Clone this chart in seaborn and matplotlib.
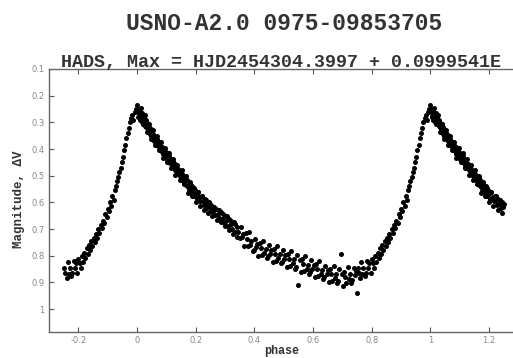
import matplotlib
matplotlib.use("Agg")
import matplotlib.pyplot as plt
import seaborn as sns
import pandas as pd

# ---- data: phase-folded light curve (base cycle 0..1) ----
# descending branch after maximum
phase_desc = [
    0.000, 0.002, 0.004, 0.006, 0.008, 0.010, 0.012, 0.014, 0.016, 0.018,
    0.020, 0.022, 0.024, 0.026, 0.028, 0.030, 0.032, 0.034, 0.036, 0.038,
    0.040, 0.042, 0.044, 0.046, 0.048, 0.050, 0.053, 0.056, 0.059, 0.062,
    0.065, 0.068, 0.071, 0.074, 0.077, 0.080, 0.083, 0.086, 0.089, 0.092,
    0.095, 0.098, 0.101, 0.104, 0.107, 0.110, 0.113, 0.116, 0.119, 0.122,
    0.125, 0.128, 0.131, 0.134, 0.137, 0.140, 0.143, 0.146, 0.149, 0.152,
    0.155, 0.158, 0.161, 0.164, 0.167, 0.170, 0.173, 0.176, 0.179, 0.182,
    0.185, 0.188, 0.191, 0.194, 0.197, 0.200, 0.204, 0.208, 0.212, 0.216,
    0.220, 0.224, 0.228, 0.232, 0.236, 0.240, 0.244, 0.248, 0.252, 0.256,
    0.260, 0.265, 0.270, 0.275, 0.280, 0.285, 0.290, 0.295, 0.300, 0.305,
    0.310, 0.315, 0.320, 0.325, 0.330, 0.335, 0.340, 0.345,
]
mag_desc = [
    0.235, 0.262, 0.250, 0.275, 0.258, 0.290, 0.270, 0.282, 0.300, 0.265,
    0.292, 0.305, 0.280, 0.298, 0.312, 0.290, 0.318, 0.302, 0.325, 0.308,
    0.332, 0.318, 0.342, 0.326, 0.350, 0.336, 0.360, 0.342, 0.370, 0.355,
    0.380, 0.364, 0.390, 0.372, 0.398, 0.385, 0.408, 0.392, 0.418, 0.400,
    0.426, 0.410, 0.438, 0.420, 0.446, 0.428, 0.453, 0.438, 0.463, 0.446,
    0.470, 0.456, 0.480, 0.464, 0.490, 0.474, 0.498, 0.482, 0.508, 0.492,
    0.516, 0.500, 0.528, 0.508, 0.535, 0.518, 0.542, 0.556, 0.530, 0.548,
    0.565, 0.540, 0.557, 0.575, 0.552, 0.570, 0.586, 0.562, 0.580, 0.596,
    0.575, 0.594, 0.608, 0.588, 0.606, 0.622, 0.600, 0.618, 0.634, 0.612,
    0.632, 0.648, 0.624, 0.645, 0.658, 0.636, 0.662, 0.678, 0.650, 0.670,
    0.688, 0.664, 0.682, 0.698, 0.674, 0.712, 0.692, 0.710,
]
# second night, descending branch (wider scatter)
phase_desc2 = [
    0.005, 0.012, 0.019, 0.026, 0.033, 0.040, 0.047, 0.054, 0.061, 0.068,
    0.075, 0.082, 0.089, 0.096, 0.103, 0.110, 0.117, 0.124, 0.131, 0.138,
    0.145, 0.152, 0.159, 0.166, 0.173, 0.180, 0.187, 0.194, 0.201, 0.208,
    0.215, 0.222, 0.229, 0.236, 0.243, 0.250, 0.257, 0.264, 0.271, 0.278,
    0.285, 0.292, 0.299, 0.306, 0.313, 0.320, 0.327, 0.334, 0.341,
]
mag_desc2 = [
    0.280, 0.248, 0.308, 0.272, 0.335, 0.305, 0.362, 0.330, 0.385, 0.352,
    0.405, 0.372, 0.432, 0.398, 0.450, 0.415, 0.470, 0.438, 0.498, 0.460,
    0.515, 0.478, 0.530, 0.500, 0.565, 0.522, 0.578, 0.548, 0.600, 0.560,
    0.615, 0.575, 0.628, 0.592, 0.640, 0.605, 0.650, 0.618, 0.665, 0.630,
    0.672, 0.645, 0.690, 0.652, 0.705, 0.668, 0.718, 0.680, 0.728,
]
# minimum / standstill region
phase_min = [
    0.350, 0.354, 0.358, 0.362, 0.366, 0.370, 0.374, 0.378, 0.382, 0.386,
    0.390, 0.394, 0.398, 0.402, 0.406, 0.410, 0.414, 0.418, 0.422, 0.426,
    0.430, 0.434, 0.438, 0.442, 0.446, 0.450, 0.454, 0.458, 0.462, 0.466,
    0.470, 0.474, 0.478, 0.482, 0.486, 0.490, 0.494, 0.498, 0.502, 0.506,
    0.510, 0.514, 0.518, 0.522, 0.526, 0.530, 0.534, 0.538, 0.542, 0.546,
    0.550, 0.554, 0.558, 0.562, 0.566, 0.570, 0.574, 0.578, 0.582, 0.586,
    0.590, 0.594, 0.598, 0.602, 0.606, 0.610, 0.614, 0.618, 0.622, 0.626,
    0.630, 0.634, 0.638, 0.642, 0.646, 0.650, 0.654, 0.658, 0.662, 0.666,
    0.670, 0.674, 0.678, 0.682, 0.686, 0.690, 0.694, 0.698, 0.702, 0.706,
    0.710, 0.714, 0.718, 0.722, 0.726, 0.730, 0.734, 0.738, 0.742, 0.746,
    0.749, 0.752, 0.756, 0.760, 0.764, 0.768, 0.772, 0.776, 0.780, 0.784,
    0.788, 0.792, 0.796, 0.800, 0.804, 0.808,
]
mag_min = [
    0.735, 0.694, 0.728, 0.717, 0.762, 0.716, 0.737, 0.764, 0.711, 0.759,
    0.745, 0.782, 0.778, 0.736, 0.769, 0.756, 0.800, 0.752, 0.772, 0.798,
    0.743, 0.789, 0.774, 0.809, 0.802, 0.760, 0.792, 0.778, 0.822, 0.774,
    0.793, 0.819, 0.763, 0.810, 0.794, 0.829, 0.823, 0.779, 0.811, 0.797,
    0.841, 0.792, 0.812, 0.837, 0.782, 0.829, 0.813, 0.848, 0.841, 0.798,
    0.910, 0.816, 0.860, 0.812, 0.831, 0.857, 0.801, 0.848, 0.833, 0.867,
    0.861, 0.817, 0.849, 0.836, 0.879, 0.831, 0.850, 0.876, 0.821, 0.867,
    0.852, 0.886, 0.880, 0.837, 0.868, 0.855, 0.898, 0.849, 0.868, 0.894,
    0.838, 0.884, 0.868, 0.902, 0.895, 0.851, 0.792, 0.869, 0.912, 0.862,
    0.879, 0.902, 0.844, 0.888, 0.869, 0.901, 0.892, 0.845, 0.874, 0.857,
    0.940, 0.847, 0.863, 0.885, 0.825, 0.867, 0.847, 0.877, 0.866, 0.818,
    0.845, 0.827, 0.866, 0.812, 0.826, 0.846,
]
# rising branch to maximum
phase_rise = [
    0.812, 0.816, 0.820, 0.824, 0.828, 0.832, 0.836, 0.840, 0.844, 0.848,
    0.852, 0.856, 0.860, 0.864, 0.868, 0.872, 0.876, 0.880, 0.884, 0.888,
    0.892, 0.896, 0.900, 0.904, 0.908, 0.912, 0.916, 0.920, 0.924, 0.928,
    0.932, 0.936, 0.940, 0.944, 0.948, 0.952, 0.956, 0.960, 0.964, 0.968,
    0.972, 0.976, 0.980, 0.984, 0.988, 0.992, 0.996,
]
mag_rise = [
    0.800, 0.822, 0.790, 0.808, 0.770, 0.792, 0.760, 0.778, 0.745, 0.765,
    0.735, 0.750, 0.718, 0.735, 0.700, 0.715, 0.685, 0.695, 0.668, 0.678,
    0.645, 0.655, 0.625, 0.632, 0.600, 0.612, 0.575, 0.590, 0.555, 0.540,
    0.520, 0.505, 0.488, 0.470, 0.450, 0.430, 0.405, 0.385, 0.360, 0.340,
    0.322, 0.300, 0.285, 0.272, 0.290, 0.262, 0.250,
]

xticks = [-0.2, 0.0, 0.2, 0.4, 0.6, 0.8, 1.0, 1.2]
xtick_labels = ["-0.2", "0", "0.2", "0.4", "0.6", "0.8", "1", "1.2"]
yticks = [0.1, 0.2, 0.3, 0.4, 0.5, 0.6, 0.7, 0.8, 0.9, 1.0]
ytick_labels = ["0.1", "0.2", "0.3", "0.4", "0.5", "0.6", "0.7", "0.8", "0.9", "1"]

title = "USNO-A2.0 0975-09853705"
subtitle = "HADS, Max = HJD2454304.3997 + 0.0999541E"
xlabel = "phase"
ylabel = "Magnitude, ΔV"

# phase-fold display: repeat late phases before 0 and early phases after 1
base = pd.DataFrame({
    "phase": phase_desc + phase_desc2 + phase_min + phase_rise,
    "mag": mag_desc + mag_desc2 + mag_min + mag_rise,
})
left = base[base["phase"] >= 0.75].assign(phase=lambda d: d["phase"] - 1.0)
right = base[base["phase"] <= 0.25].assign(phase=lambda d: d["phase"] + 1.0)
df = pd.concat([left, base, right], ignore_index=True)

sns.set_style("ticks")
plt.rcParams["font.family"] = ["DejaVu Sans"]

W, H = 513, 358
fig = plt.figure(figsize=(W / 100, H / 100), dpi=100)
ax = fig.add_axes([49 / W, 1 - 332 / H, 469.4 / W, 263 / H])

sns.scatterplot(data=df, x="phase", y="mag", ax=ax, color="black", s=13,
                linewidth=0, legend=False)

ax.set_xlim(-0.3, 1.3)
ax.set_ylim(1.086, 0.1)
ax.set_xticks(xticks)
ax.set_xticklabels(xtick_labels)
ax.set_yticks(yticks)
ax.set_yticklabels(ytick_labels)
ax.tick_params(direction="in", length=3.5, width=0.8, colors="#555555",
               labelcolor="#888888", labelsize=6, top=True, right=True, pad=3)
for s in ax.spines.values():
    s.set_color("#666666")
    s.set_linewidth(1.0)
    s.set_visible(True)

ax.set_xlabel("")
ax.set_ylabel("")
mono = ["Liberation Mono", "DejaVu Sans Mono"]
fig.text(284.5 / W, 1 - 23 / H, title, ha="center", va="center",
         family=mono, fontweight="bold", fontsize=16.5, color="#333333")
fig.text(281 / W, 1 - 62 / H, subtitle, ha="center", va="center",
         family=mono, fontweight="bold", fontsize=13.2, color="#333333")
fig.text(19 / W, 1 - 199 / H, ylabel, ha="center", va="center",
         rotation=90, family=mono, fontweight="bold", fontsize=9,
         color="#333333")
fig.text(282 / W, 1 - 351 / H, xlabel, ha="center", va="center",
         family=mono, fontweight="bold", fontsize=8.5, color="#333333")

fig.savefig("out.png", dpi=100)
